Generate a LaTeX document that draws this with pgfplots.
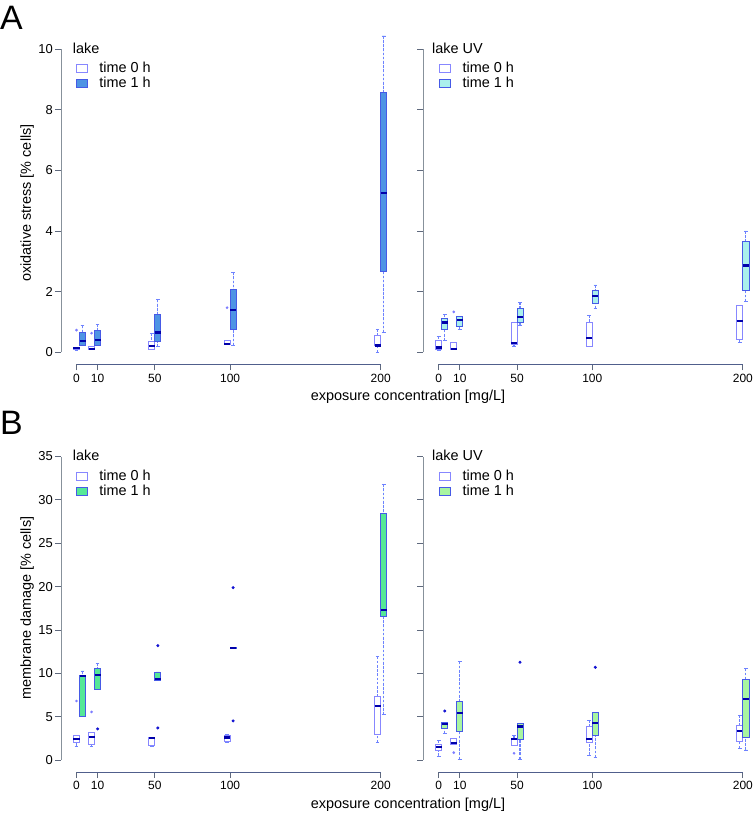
\documentclass[border=0pt]{standalone}
\usepackage{pgfplots}
\pgfplotsset{compat=1.18}
\usepgfplotslibrary{statistics}
\usepackage{fontspec}
\setmainfont{Liberation Sans}

\definecolor{edgeA}{RGB}{135,135,255}
\definecolor{whisk}{RGB}{110,130,255}
\definecolor{edgeB}{RGB}{70,90,230}
\definecolor{med}{RGB}{0,0,170}
\definecolor{outA}{RGB}{125,125,255}
\definecolor{outB}{RGB}{20,20,210}
\definecolor{fAL}{RGB}{78,148,228}
\definecolor{fAU}{RGB}{170,240,236}
\definecolor{fBL}{RGB}{85,232,150}
\definecolor{fBU}{RGB}{168,245,160}
\definecolor{yax}{RGB}{135,145,155}
\definecolor{xax}{RGB}{80,95,140}
\definecolor{tickc}{RGB}{95,105,125}

\newcommand{\lblfont}{\fontsize{14.5}{16}\selectfont}

\pgfplotsset{
  bx/.style={boxplot/draw direction=y, boxplot/box extend=4, boxplot/whisker extend=2.4,
    line width=0.8pt, mark=*,
    boxplot/every median/.style={draw=med, line width=2.2pt},
    boxplot/draw/lower whisker/.code={%
      \draw[draw=whisk, line width=1.1pt, dash pattern=on 2.6pt off 1.6pt]
        (boxplot box cs:\pgfplotsboxplotvalue{lower whisker},0.5) --
        (boxplot box cs:\pgfplotsboxplotvalue{lower quartile},0.5);
      \draw[draw=whisk, line width=0.8pt, solid]
        (boxplot whisker cs:\pgfplotsboxplotvalue{lower whisker},0) --
        (boxplot whisker cs:\pgfplotsboxplotvalue{lower whisker},1);},
    boxplot/draw/upper whisker/.code={%
      \draw[draw=whisk, line width=1.1pt, dash pattern=on 2.6pt off 1.6pt]
        (boxplot box cs:\pgfplotsboxplotvalue{upper whisker},0.5) --
        (boxplot box cs:\pgfplotsboxplotvalue{upper quartile},0.5);
      \draw[draw=whisk, line width=0.8pt, solid]
        (boxplot whisker cs:\pgfplotsboxplotvalue{upper whisker},0) --
        (boxplot whisker cs:\pgfplotsboxplotvalue{upper whisker},1);}},
  t0/.style={bx, draw=edgeA, fill=white, mark size=0.9pt, mark options={draw=outA, fill=outA, solid}},
  t1/.style={bx, draw=edgeB, fill=#1, mark size=1.1pt, mark options={draw=outB, fill=outB, solid}},
  panel/.style={
    scale only axis, width=338.2bp, xmin=-12.3, xmax=212.3,
    anchor=south west,
    axis lines*=left, axis line style={draw=none,-},
    tick align=outside, major tick length=6bp,
    tick style={draw=tickc, line width=0.8pt},
    xtick={-2,12,50,100,200}, xticklabels={0,10,50,100,200},
    xticklabel style={font=\fontsize{12}{14}\selectfont},
    yticklabel style={font=\fontsize{13}{15}\selectfont, inner sep=2bp},
    /pgf/number format/assume math mode=true,
    clip=false,
    legend cell align=left,
    legend style={draw=none, fill=none, inner sep=0pt, outer sep=0pt, row sep=2bp,
       font=\lblfont, anchor=north west,
       nodes={inner sep=0pt, text height=10.5bp, text depth=2.5bp}},
    xlabel style={at={(axis description cs:1.026,0)}, anchor=center, yshift=-32.7bp, font=\lblfont},
    ylabel style={anchor=center, font=\lblfont},
  },
  pA/.style={panel, height=342.7bp, ymin=-0.4, ymax=10.9, ytick={0,2,4,6,8,10}},
  pB/.style={panel, height=327.7bp, ymin=-1.4, ymax=36.4, ytick={0,5,10,15,20,25,30,35}},
}

\begin{document}
\begin{tikzpicture}
\useasboundingbox (0,0) rectangle (756bp,814bp);

\node[anchor=base west, inner sep=0pt, font=\fontsize{34}{36}\selectfont] at (0bp,784bp) {A};
\node[anchor=base west, inner sep=0pt, font=\fontsize{34}{36}\selectfont] at (0bp,379bp) {B};

% ---------------- A lake ----------------
\begin{axis}[pA, at={(61bp,449.6bp)},
  xlabel={exposure concentration [mg/L]},
  ylabel={oxidative stress [\% cells]},
  ylabel style={at={(axis description cs:-0.1,0.471)}},
  legend style={at={(axis description cs:0.0435,0.8824)}}]
\addlegendimage{legend image code/.code={\draw[draw=edgeA, fill=white, line width=0.8pt] (0bp,-4bp) rectangle (11bp,4bp); \path (23bp,0bp);}}
\addlegendentry{time 0 h}
\addlegendimage{legend image code/.code={\draw[draw=edgeB, fill=fAL, line width=0.8pt] (0bp,-4bp) rectangle (11bp,4bp); \path (23bp,0bp);}}
\addlegendentry{time 1 h}
\draw[yax, line width=0.8pt] (axis cs:-12.3,0) -- (axis cs:-12.3,10);
\draw[xax, line width=0.8pt] (axis cs:-2,-0.4) -- (axis cs:200,-0.4);
\node[anchor=west, inner sep=0pt, font=\lblfont] at (axis description cs:0.0346,0.9233) {lake};

\addplot[t0, boxplot prepared={draw position=-2, lower whisker=0.07, lower quartile=0.11, median=0.13, upper quartile=0.15, upper whisker=0.15}] table[row sep=\\, y index=0] {v\\ 0.73\\};
\addplot[t1=fAL, boxplot prepared={draw position=2, lower whisker=0.24, lower quartile=0.24, median=0.38, upper quartile=0.66, upper whisker=0.87}] coordinates {};
\addplot[t0, boxplot prepared={draw position=8, lower whisker=0.10, lower quartile=0.10, median=0.12, upper quartile=0.18, upper whisker=0.18}] table[row sep=\\, y index=0] {v\\ 0.63\\};
\addplot[t1=fAL, boxplot prepared={draw position=12, lower whisker=0.24, lower quartile=0.24, median=0.40, upper quartile=0.71, upper whisker=0.93}] coordinates {};
\addplot[t0, boxplot prepared={draw position=48, lower whisker=0.10, lower quartile=0.10, median=0.21, upper quartile=0.36, upper whisker=0.63}] coordinates {};
\addplot[t1=fAL, boxplot prepared={draw position=52, lower whisker=0.18, lower quartile=0.36, median=0.65, upper quartile=1.24, upper whisker=1.73}] coordinates {};
\addplot[t0, boxplot prepared={draw position=98, lower whisker=0.25, lower quartile=0.25, median=0.26, upper quartile=0.38, upper whisker=0.38}] table[row sep=\\, y index=0] {v\\ 1.47\\};
\addplot[t1=fAL, boxplot prepared={draw position=102, lower whisker=0.23, lower quartile=0.76, median=1.39, upper quartile=2.08, upper whisker=2.64}] coordinates {};
\addplot[t0, boxplot prepared={draw position=198, lower whisker=0.0, lower quartile=0.21, median=0.22, upper quartile=0.57, upper whisker=0.77}] coordinates {};
\addplot[t1=fAL, boxplot prepared={draw position=202, lower whisker=0.65, lower quartile=2.66, median=5.24, upper quartile=8.57, upper whisker=10.43}] coordinates {};
\end{axis}

% ---------------- A lake UV ----------------
\begin{axis}[pA, at={(423.2bp,449.6bp)}, yticklabels={},
  legend style={at={(axis description cs:0.0467,0.8824)}}]
\addlegendimage{legend image code/.code={\draw[draw=edgeA, fill=white, line width=0.8pt] (0bp,-4bp) rectangle (11bp,4bp); \path (23bp,0bp);}}
\addlegendentry{time 0 h}
\addlegendimage{legend image code/.code={\draw[draw=edgeB, fill=fAU, line width=0.8pt] (0bp,-4bp) rectangle (11bp,4bp); \path (23bp,0bp);}}
\addlegendentry{time 1 h}
\draw[yax, line width=0.8pt] (axis cs:-12.3,0) -- (axis cs:-12.3,10);
\draw[xax, line width=0.8pt] (axis cs:-2,-0.4) -- (axis cs:200,-0.4);
\node[anchor=west, inner sep=0pt, font=\lblfont] at (axis description cs:0.026,0.9233) {lake UV};

\addplot[t0, boxplot prepared={draw position=-2, lower whisker=0.07, lower quartile=0.10, median=0.16, upper quartile=0.38, upper whisker=0.51}] coordinates {};
\addplot[t1=fAU, boxplot prepared={draw position=2, lower whisker=0.38, lower quartile=0.76, median=0.98, upper quartile=1.12, upper whisker=1.26}] coordinates {};
\addplot[t0, boxplot prepared={draw position=8, lower whisker=0.10, lower quartile=0.10, median=0.11, upper quartile=0.33, upper whisker=0.33}] table[row sep=\\, y index=0] {v\\ 1.33\\};
\addplot[t1=fAU, boxplot prepared={draw position=12, lower whisker=0.74, lower quartile=0.84, median=1.07, upper quartile=1.17, upper whisker=1.17}] coordinates {};
\addplot[t0, boxplot prepared={draw position=48, lower whisker=0.18, lower quartile=0.26, median=0.30, upper quartile=0.98, upper whisker=1.00}] coordinates {};
\addplot[t1=fAU, boxplot prepared={draw position=52, lower whisker=0.90, lower quartile=0.98, median=1.17, upper quartile=1.45, upper whisker=1.65}] coordinates {};
\addplot[t0, boxplot prepared={draw position=98, lower whisker=0.18, lower quartile=0.18, median=0.48, upper quartile=0.98, upper whisker=1.23}] coordinates {};
\addplot[t1=fAU, boxplot prepared={draw position=102, lower whisker=1.45, lower quartile=1.61, median=1.86, upper quartile=2.05, upper whisker=2.22}] coordinates {};
\addplot[t0, boxplot prepared={draw position=198, lower whisker=0.33, lower quartile=0.43, median=1.03, upper quartile=1.56, upper whisker=1.56}] coordinates {};
\addplot[t1=fAU, boxplot prepared={draw position=202, lower whisker=1.67, lower quartile=2.03, median=2.86, upper quartile=3.67, upper whisker=4.00}] coordinates {};
\end{axis}

% ---------------- B lake ----------------
\begin{axis}[pB, at={(61bp,41.9bp)},
  xlabel={exposure concentration [mg/L]},
  ylabel={membrane damage [\% cells]},
  ylabel style={at={(axis description cs:-0.1,0.5)}},
  legend style={at={(axis description cs:0.0435,0.9213)}}]
\addlegendimage{legend image code/.code={\draw[draw=edgeA, fill=white, line width=0.8pt] (0bp,-4bp) rectangle (11bp,4bp); \path (23bp,0bp);}}
\addlegendentry{time 0 h}
\addlegendimage{legend image code/.code={\draw[draw=edgeB, fill=fBL, line width=0.8pt] (0bp,-4bp) rectangle (11bp,4bp); \path (23bp,0bp);}}
\addlegendentry{time 1 h}
\draw[yax, line width=0.8pt] (axis cs:-12.3,0) -- (axis cs:-12.3,35);
\draw[xax, line width=0.8pt] (axis cs:-2,-1.4) -- (axis cs:200,-1.4);
\node[anchor=west, inner sep=0pt, font=\lblfont] at (axis description cs:0.0346,0.9655) {lake};

\addplot[t0, boxplot prepared={draw position=-2, lower whisker=1.61, lower quartile=2.04, median=2.38, upper quartile=2.88, upper whisker=2.88}] table[row sep=\\, y index=0] {v\\ 6.8\\};
\addplot[t1=fBL, boxplot prepared={draw position=2, lower whisker=5.0, lower quartile=5.0, median=9.65, upper quartile=9.8, upper whisker=10.27}] coordinates {};
\addplot[t0, boxplot prepared={draw position=8, lower whisker=1.54, lower quartile=1.85, median=2.61, upper quartile=3.15, upper whisker=3.15}] table[row sep=\\, y index=0] {v\\ 5.54\\};
\addplot[t1=fBL, boxplot prepared={draw position=12, lower whisker=8.15, lower quartile=8.15, median=9.8, upper quartile=10.54, upper whisker=11.15}] table[row sep=\\, y index=0] {v\\ 3.58\\};
\addplot[t0, boxplot prepared={draw position=48, lower whisker=1.54, lower quartile=1.73, median=2.55, upper quartile=2.6, upper whisker=2.6}] coordinates {};
\addplot[t1=fBL, boxplot prepared={draw position=52, lower whisker=9.15, lower quartile=9.15, median=9.38, upper quartile=10.15, upper whisker=10.15}] table[row sep=\\, y index=0] {v\\ 13.19\\ 3.69\\};
\addplot[t0, boxplot prepared={draw position=98, lower whisker=2.0, lower quartile=2.12, median=2.58, upper quartile=2.85, upper whisker=2.9}] coordinates {};
\addplot[t1=fBL, boxplot prepared={draw position=102, lower whisker=12.88, lower quartile=12.88, median=12.92, upper quartile=12.96, upper whisker=12.96}] table[row sep=\\, y index=0] {v\\ 19.88\\ 4.5\\};
\addplot[t0, boxplot prepared={draw position=198, lower whisker=2.0, lower quartile=2.96, median=6.27, upper quartile=7.38, upper whisker=11.92}] coordinates {};
\addplot[t1=fBL, boxplot prepared={draw position=202, lower whisker=5.2, lower quartile=16.6, median=17.3, upper quartile=28.4, upper whisker=31.8}] coordinates {};
\end{axis}

% ---------------- B lake UV ----------------
\begin{axis}[pB, at={(423.2bp,41.9bp)}, yticklabels={},
  legend style={at={(axis description cs:0.0467,0.9213)}}]
\addlegendimage{legend image code/.code={\draw[draw=edgeA, fill=white, line width=0.8pt] (0bp,-4bp) rectangle (11bp,4bp); \path (23bp,0bp);}}
\addlegendentry{time 0 h}
\addlegendimage{legend image code/.code={\draw[draw=edgeB, fill=fBU, line width=0.8pt] (0bp,-4bp) rectangle (11bp,4bp); \path (23bp,0bp);}}
\addlegendentry{time 1 h}
\draw[yax, line width=0.8pt] (axis cs:-12.3,0) -- (axis cs:-12.3,35);
\draw[xax, line width=0.8pt] (axis cs:-2,-1.4) -- (axis cs:200,-1.4);
\node[anchor=west, inner sep=0pt, font=\lblfont] at (axis description cs:0.026,0.9655) {lake UV};

\addplot[t0, boxplot prepared={draw position=-2, lower whisker=0.46, lower quartile=1.15, median=1.54, upper quartile=1.81, upper whisker=2.23}] coordinates {};
\addplot[t1=fBU, boxplot prepared={draw position=2, lower whisker=3.08, lower quartile=3.65, median=4.11, upper quartile=4.31, upper whisker=4.31}] table[row sep=\\, y index=0] {v\\ 5.65\\};
\addplot[t0, boxplot prepared={draw position=8, lower whisker=1.85, lower quartile=1.85, median=2.0, upper quartile=2.5, upper whisker=2.5}] table[row sep=\\, y index=0] {v\\ 0.85\\};
\addplot[t1=fBU, boxplot prepared={draw position=12, lower whisker=0.08, lower quartile=3.35, median=5.38, upper quartile=6.73, upper whisker=11.35}] coordinates {};
\addplot[t0, boxplot prepared={draw position=48, lower whisker=1.73, lower quartile=1.73, median=2.38, upper quartile=2.42, upper whisker=2.88}] table[row sep=\\, y index=0] {v\\ 0.77\\};
\addplot[t1=fBU, boxplot prepared={draw position=52, lower whisker=0.08, lower quartile=2.38, median=3.85, upper quartile=4.23, upper whisker=4.23}] table[row sep=\\, y index=0] {v\\ 11.27\\};
\addplot[t0, boxplot prepared={draw position=98, lower whisker=0.58, lower quartile=2.0, median=2.42, upper quartile=3.85, upper whisker=4.61}] coordinates {};
\addplot[t1=fBU, boxplot prepared={draw position=102, lower whisker=0.31, lower quartile=2.81, median=4.23, upper quartile=5.46, upper whisker=5.46}] table[row sep=\\, y index=0] {v\\ 10.69\\};
\addplot[t0, boxplot prepared={draw position=198, lower whisker=1.35, lower quartile=2.12, median=3.35, upper quartile=4.04, upper whisker=5.19}] coordinates {};
\addplot[t1=fBU, boxplot prepared={draw position=202, lower whisker=1.15, lower quartile=2.58, median=7.0, upper quartile=9.31, upper whisker=10.54}] coordinates {};
\end{axis}
\end{tikzpicture}
\end{document}
